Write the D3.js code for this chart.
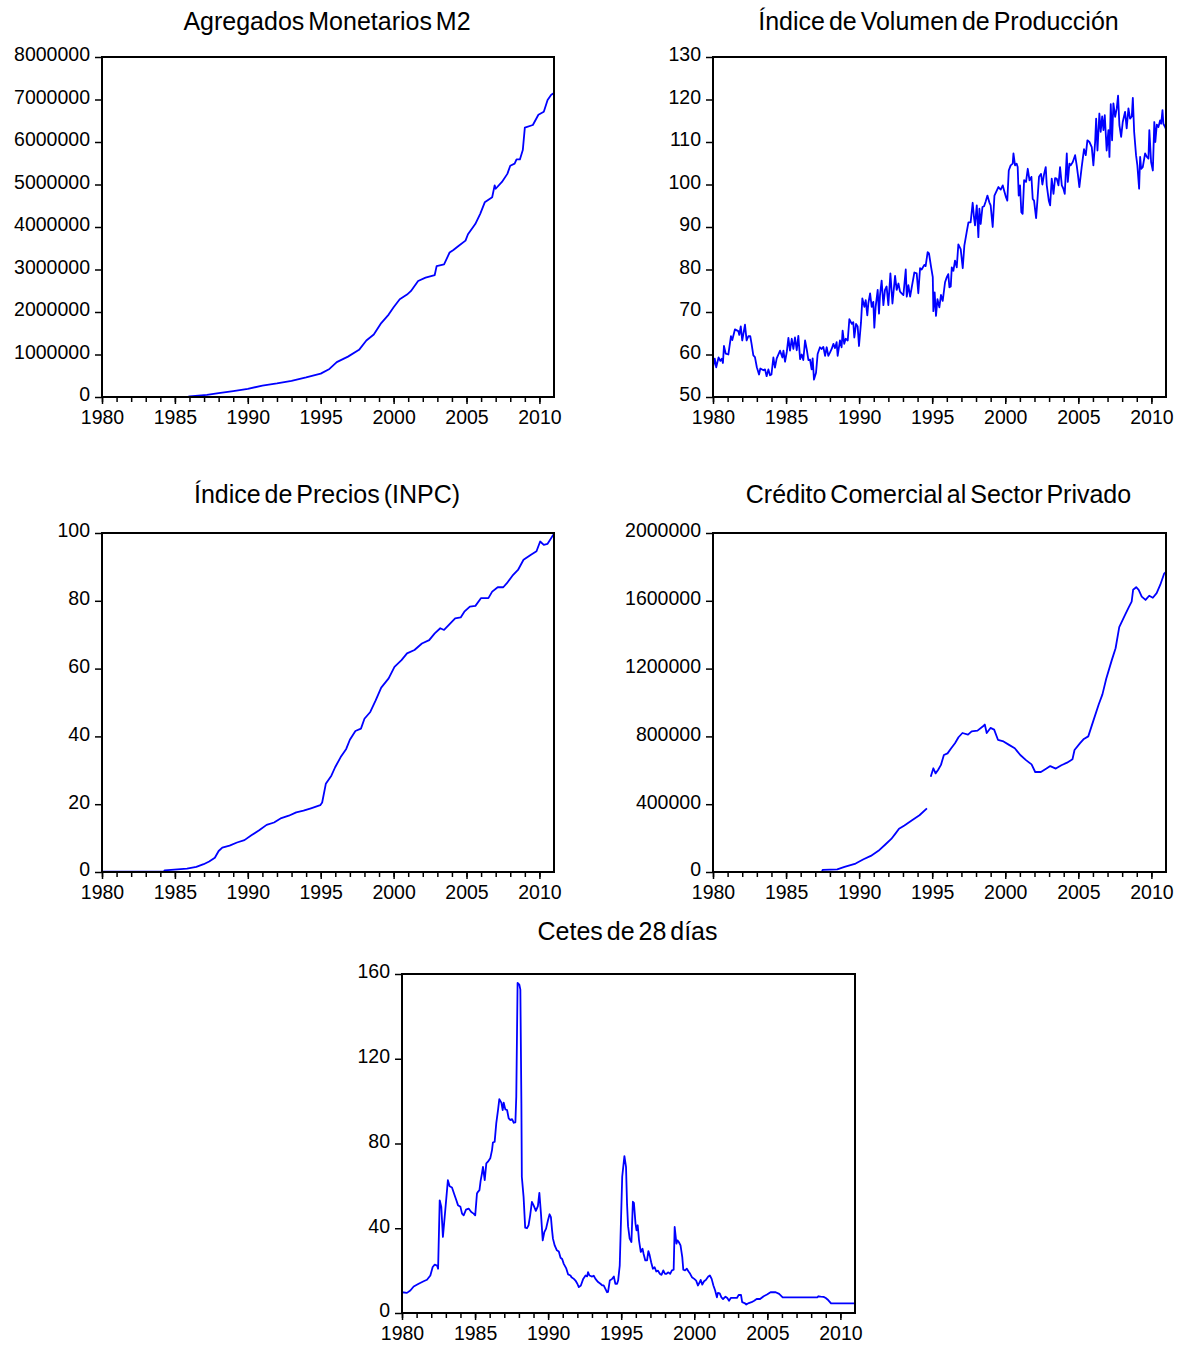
<!DOCTYPE html>
<html>
<head>
<meta charset="utf-8">
<script src="https://cdn.jsdelivr.net/npm/d3@7"></script>
<style>
  body { margin: 0; background: #fff; }
  text { font-family: "Liberation Sans", Arial, sans-serif; fill: #000; }
</style>
</head>
<body>
<div id="chart"></div>
<script>
// ---- data (decimal year, value) ----
var yearTicks = [1980, 1985, 1990, 1995, 2000, 2005, 2010]

var m2Years = [1980.0, 1985.9, 1986.0, 1987.2, 1988.0, 1989.0, 1990.0, 1991.0, 1992.0, 1993.0, 1994.0, 1995.0, 1995.6,
  1996.1, 1996.87, 1997.63, 1998.13, 1998.64, 1999.15, 1999.66, 2000.0, 2000.42, 2000.92, 2001.18, 2001.68, 2002.19,
  2002.82, 2002.95, 2003.46, 2003.84, 2004.1, 2004.47, 2004.93, 2005.1, 2005.6, 2005.94, 2006.25, 2006.76, 2006.93,
  2007.0, 2007.43, 2007.8, 2008.0, 2008.3, 2008.43, 2008.66, 2008.86, 2009.0, 2009.55, 2009.93, 2010.3, 2010.56,
  2010.81, 2011.0]
var m2Values = [0, 5000, 16000, 50000, 90000, 140000, 190000, 270000, 320000, 380000, 460000, 550000, 660000,
  820000, 950000, 1110000, 1330000, 1470000, 1740000, 1940000, 2110000, 2300000, 2410000, 2490000, 2730000, 2810000,
  2870000, 3080000, 3120000, 3400000, 3460000, 3560000, 3680000, 3830000, 4070000, 4310000, 4580000, 4700000, 4980000,
  4900000, 5060000, 5250000, 5440000, 5490000, 5590000, 5590000, 5810000, 6340000, 6400000, 6640000, 6710000, 6990000,
  7110000, 7150000]
var m2Ticks = [0, 1000000, 2000000, 3000000, 4000000, 5000000, 6000000, 7000000, 8000000]

var prodYears = [1980.0, 1980.12, 1980.22, 1980.38, 1980.5, 1980.6, 1980.68, 1980.75, 1980.87, 1981.05, 1981.23, 1981.32,
  1981.5, 1981.73, 1981.8, 1981.9, 1982.0, 1982.19, 1982.3, 1982.42, 1982.55, 1982.64, 1982.76, 1982.87, 1983.0,
  1983.15, 1983.24, 1983.45, 1983.56, 1983.67, 1983.79, 1983.9, 1984.0, 1984.13, 1984.24, 1984.36, 1984.59, 1984.75,
  1984.82, 1984.93, 1985.05, 1985.16, 1985.27, 1985.39, 1985.5, 1985.61, 1985.73, 1985.84, 1985.96, 1986.07, 1986.18,
  1986.3, 1986.41, 1986.53, 1986.64, 1986.75, 1986.82, 1986.91, 1987.05, 1987.16, 1987.32, 1987.43, 1987.55, 1987.67,
  1987.78, 1987.89, 1988.01, 1988.12, 1988.24, 1988.35, 1988.46, 1988.53, 1988.69, 1988.8, 1988.87, 1988.98, 1989.08,
  1989.22, 1989.33, 1989.5, 1989.6, 1989.67, 1989.79, 1989.9, 1989.99, 1990.13, 1990.22, 1990.36, 1990.45, 1990.56,
  1990.63, 1990.75, 1990.86, 1990.97, 1991.04, 1991.13, 1991.27, 1991.36, 1991.43, 1991.54, 1991.66, 1991.77, 1991.88,
  1992.0, 1992.14, 1992.28, 1992.46, 1992.57, 1992.69, 1992.8, 1992.91, 1993.03, 1993.19, 1993.26, 1993.37, 1993.49,
  1993.6, 1993.78, 1993.94, 1994.05, 1994.17, 1994.28, 1994.46, 1994.55, 1994.69, 1994.78, 1994.92, 1995.04, 1995.08,
  1995.17, 1995.26, 1995.36, 1995.49, 1995.6, 1995.72, 1995.88, 1996.0, 1996.1, 1996.18, 1996.27, 1996.34, 1996.45,
  1996.56, 1996.68, 1996.79, 1996.95, 1997.09, 1997.2, 1997.36, 1997.48, 1997.63, 1997.77, 1997.86, 1997.93, 1998.05,
  1998.16, 1998.23, 1998.32, 1998.44, 1998.55, 1998.66, 1998.78, 1998.91, 1999.0, 1999.14, 1999.26, 1999.37, 1999.53,
  1999.69, 1999.83, 1999.92, 2000.05, 2000.14, 2000.24, 2000.37, 2000.51, 2000.56, 2000.67, 2000.78, 2000.85, 2000.92,
  2001.01, 2001.1, 2001.19, 2001.29, 2001.42, 2001.54, 2001.66, 2001.79, 2001.88, 2001.97, 2002.11, 2002.2, 2002.31,
  2002.45, 2002.54, 2002.66, 2002.77, 2002.84, 2002.98, 2003.07, 2003.18, 2003.3, 2003.41, 2003.52, 2003.64, 2003.75,
  2003.87, 2003.98, 2004.07, 2004.21, 2004.28, 2004.39, 2004.48, 2004.62, 2004.78, 2004.89, 2004.98, 2005.07, 2005.23,
  2005.39, 2005.51, 2005.62, 2005.76, 2005.92, 2006.03, 2006.15, 2006.22, 2006.31, 2006.44, 2006.53, 2006.63, 2006.72,
  2006.81, 2006.94, 2007.06, 2007.13, 2007.22, 2007.31, 2007.4, 2007.52, 2007.63, 2007.72, 2007.81, 2007.93, 2008.04,
  2008.2, 2008.31, 2008.43, 2008.54, 2008.66, 2008.73, 2008.82, 2008.95, 2009.04, 2009.16, 2009.23, 2009.3, 2009.41,
  2009.57, 2009.69, 2009.8, 2009.86, 2009.98, 2010.1, 2010.2, 2010.27, 2010.37, 2010.48, 2010.6, 2010.67, 2010.76,
  2010.82, 2010.94, 2011.0]
var prodValues = [57, 59, 57, 59.3, 58.5, 59, 58, 62, 60.2, 60, 64.3, 63.4,
  65.9, 65.5, 64.6, 66.6, 63.3, 67, 63.3, 64.3, 64.3, 62.5, 59.8, 59.4, 57,
  55.3, 56.7, 56.3, 56.5, 54.9, 56.5, 55.1, 55.3, 59.3, 56.9, 59.1, 60.9, 59.3,
  60.9, 58.3, 60.6, 63.9, 60.9, 63.7, 61.3, 64, 61, 64.4, 58.9, 60, 58.7,
  63.3, 61.3, 58.7, 58.8, 56.5, 59.1, 54.1, 55.7, 60.1, 61.7, 61.3, 61.8, 59.7,
  61.7, 59.7, 60.5, 61.3, 62.5, 61.5, 62.9, 59.7, 63.3, 61.7, 65.6, 62.5, 63.7,
  63.3, 68.3, 67.2, 67.6, 64, 67.2, 66.6, 62, 67.6, 73.2, 71.2, 72.8, 69.2,
  72, 74.4, 71.2, 72.4, 66.3, 71.2, 75.2, 69.6, 74, 77.4, 71.6, 75.2, 76,
  71.6, 79.1, 72, 78.5, 75.2, 76.7, 74.8, 74.4, 74, 80, 73.6, 76.3, 73.6,
  75.8, 79.3, 79.1, 74.4, 80.3, 80, 81.1, 80.8, 84.1, 83.8, 80.7, 78.2, 70.2,
  74.6, 69.1, 73, 71.1, 74, 72.6, 77, 78.2, 78.9, 75.8, 76, 80.5, 79.7,
  82.1, 80.5, 85.9, 84.8, 80.3, 85.6, 88.8, 91.1, 91.1, 95.7, 92.3, 90.4, 95.1,
  87.6, 94.3, 90.7, 94.7, 94.9, 96, 97.4, 95.8, 95.1, 90, 97.4, 98.2, 99.4,
  98.8, 99.8, 98.6, 97, 96.2, 103.3, 104.5, 104.9, 107.3, 104.5, 104.9, 104.1, 97.4,
  99.8, 93.5, 93.1, 101, 100.6, 103.7, 101, 101.8, 96.6, 96.2, 92.1, 96.2, 101.8,
  102.5, 100, 102.5, 104.1, 99.8, 96.2, 95.1, 101.4, 97.8, 101.5, 101.4, 99.8, 104.1,
  99.8, 99, 97.8, 107.3, 100.6, 104.9, 104.5, 105.3, 106.9, 104.5, 102.1, 99.4, 104.1,
  108.3, 106.9, 110.4, 110, 108.8, 104.5, 110, 115.5, 108, 116.7, 112.4, 116, 112.8,
  116.3, 108, 112.8, 106.5, 118.9, 110.4, 119.1, 115.9, 117.9, 120.9, 114, 111.2, 114.7,
  117.1, 113.2, 117.9, 115.5, 116, 120.4, 112.4, 106.9, 104.5, 99, 106.5, 103.7, 104.1,
  107.3, 106.5, 106.1, 112.8, 105.3, 103.3, 114.7, 110, 114.1, 113.5, 115.1, 114.3, 117.5,
  114.3, 113.5, 113]
var prodTicks = [50, 60, 70, 80, 90, 100, 110, 120, 130]

var inpcYears = [1980.0, 1984.25, 1984.3, 1985.83, 1986.47, 1986.97, 1987.35, 1987.74, 1988.0, 1988.25, 1988.75,
  1989.26, 1989.77, 1990.27, 1990.78, 1991.29, 1991.8, 1992.3, 1992.81, 1993.32, 1993.82, 1994.33, 1994.97, 1995.1,
  1995.35, 1995.73, 1995.99, 1996.37, 1996.75, 1997.0, 1997.38, 1997.76, 1998.0, 1998.4, 1998.77, 1999.15, 1999.66,
  2000.06, 2000.54, 2000.92, 2001.43, 2001.94, 2002.44, 2002.82, 2003.2, 2003.46, 2003.84, 2004.22, 2004.6, 2004.85,
  2005.23, 2005.61, 2006.0, 2006.5, 2006.76, 2007.14, 2007.52, 2007.77, 2008.15, 2008.53, 2008.91, 2009.42, 2009.8,
  2010.05, 2010.3, 2010.56, 2011.0]
var inpcValues = [0.1, 0.2, 0.5, 1.0, 1.5, 2.3, 3.1, 4.2, 6.2, 7.2, 7.8,
  8.7, 9.4, 10.9, 12.3, 13.9, 14.6, 15.9, 16.6, 17.6, 18.1, 18.8, 19.7, 20.5,
  26, 28.4, 30.9, 33.9, 36.3, 39, 41.6, 42.3, 45.2, 47.2, 50.6, 54.4, 57.1,
  60.5, 62.5, 64.5, 65.5, 67.4, 68.4, 70.4, 71.9, 71.4, 73.1, 74.8, 75.1, 76.8,
  78.3, 78.5, 80.8, 80.8, 82.7, 84, 84, 85.2, 87.4, 89.1, 92.1, 93.6, 94.6,
  97.5, 96.5, 96.8, 99.8]
var inpcTicks = [0, 20, 40, 60, 80, 100]

// null marks the break in the series at the end of 1994
var creditYears = [1980.0, 1987.45, 1987.5, 1988.5, 1989.0, 1989.76, 1990.3, 1990.8, 1991.32, 1991.83, 1992.2,
  1992.47, 1992.73, 1993.1, 1993.62, 1994.13, 1994.64, 1994.77, 1994.9, 1995.08, 1995.23, 1995.4, 1995.6, 1995.8,
  1996.05, 1996.3, 1996.56, 1996.8, 1997.07, 1997.45, 1997.7, 1998.1, 1998.48, 1998.6, 1998.73, 1998.99, 1999.24,
  1999.5, 1999.88, 2000.26, 2000.65, 2001.03, 2001.42, 2001.8, 2002.05, 2002.44, 2002.82, 2003.08, 2003.46, 2003.84,
  2004.23, 2004.6, 2004.74, 2005.12, 2005.38, 2005.68, 2006.02, 2006.4, 2006.65, 2006.91, 2007.29, 2007.55, 2007.8,
  2008.19, 2008.44, 2008.65, 2008.75, 2008.96, 2009.13, 2009.34, 2009.6, 2009.85, 2010.1, 2010.36, 2010.61, 2010.87,
  2011.0]
var creditValues = [0, 0, 12000, 16000, 30000, 50000, 75000, 95000, 125000, 165000, 195000,
  225000, 255000, 275000, 305000, 335000, 375000, null, 562000, 612000, 582000, 602000, 632000, 690000,
  700000, 730000, 760000, 795000, 820000, 810000, 830000, 834000, 860000, 870000, 820000, 850000, 840000,
  780000, 770000, 750000, 730000, 690000, 660000, 635000, 590000, 590000, 610000, 625000, 610000, 630000,
  645000, 665000, 720000, 760000, 785000, 800000, 890000, 990000, 1048000, 1140000, 1250000, 1320000, 1445000,
  1515000, 1560000, 1595000, 1665000, 1680000, 1665000, 1625000, 1605000, 1630000, 1618000, 1645000, 1695000, 1760000,
  1770000]
var creditTicks = [0, 400000, 800000, 1200000, 1600000, 2000000]

var cetesYears = [1980.0, 1980.34, 1980.57, 1980.8, 1981.14, 1981.48, 1981.71, 1981.94, 1982.1, 1982.24, 1982.4,
  1982.47, 1982.58, 1982.69, 1982.8, 1982.92, 1983.03, 1983.14, 1983.26, 1983.42, 1983.6, 1983.72, 1983.83, 1984.0,
  1984.11, 1984.22, 1984.38, 1984.56, 1984.74, 1984.9, 1985.01, 1985.13, 1985.2, 1985.3, 1985.38, 1985.47, 1985.54,
  1985.66, 1985.77, 1985.88, 1986.04, 1986.16, 1986.22, 1986.34, 1986.45, 1986.57, 1986.66, 1986.8, 1986.89, 1986.96,
  1987.07, 1987.19, 1987.3, 1987.42, 1987.53, 1987.65, 1987.76, 1987.82, 1987.91, 1988.03, 1988.1, 1988.17, 1988.2,
  1988.32, 1988.43, 1988.55, 1988.66, 1988.77, 1988.89, 1989.0, 1989.16, 1989.3, 1989.4, 1989.51, 1989.63, 1989.74,
  1989.86, 1989.99, 1990.1, 1990.19, 1990.27, 1990.33, 1990.45, 1990.6, 1990.73, 1990.85, 1990.96, 1991.07, 1991.23,
  1991.37, 1991.53, 1991.6, 1991.76, 1991.87, 1992.0, 1992.1, 1992.24, 1992.4, 1992.56, 1992.67, 1992.73, 1992.83,
  1993.01, 1993.12, 1993.24, 1993.42, 1993.58, 1993.7, 1993.8, 1993.92, 1994.03, 1994.1, 1994.22, 1994.38, 1994.5,
  1994.6, 1994.72, 1994.79, 1994.9, 1995.07, 1995.22, 1995.33, 1995.4, 1995.47, 1995.58, 1995.7, 1995.8, 1995.87,
  1995.98, 1996.05, 1996.13, 1996.22, 1996.34, 1996.46, 1996.53, 1996.65, 1996.77, 1996.86, 1996.95, 1997.05, 1997.17,
  1997.29, 1997.4, 1997.52, 1997.64, 1997.76, 1997.88, 1998.0, 1998.1, 1998.23, 1998.35, 1998.47, 1998.59, 1998.66,
  1998.78, 1998.85, 1998.94, 1999.06, 1999.18, 1999.25, 1999.37, 1999.49, 1999.61, 1999.72, 1999.84, 2000.0, 2000.13,
  2000.25, 2000.37, 2000.44, 2000.55, 2000.67, 2000.79, 2000.96, 2001.07, 2001.19, 2001.31, 2001.43, 2001.55, 2001.62,
  2001.74, 2001.86, 2001.97, 2002.14, 2002.26, 2002.38, 2002.5, 2002.92, 2003.04, 2003.2, 2003.28, 2003.44, 2003.56,
  2003.73, 2003.92, 2004.1, 2004.27, 2004.5, 2004.75, 2004.98, 2005.22, 2005.57, 2005.81, 2006.05, 2008.42, 2008.5,
  2008.65, 2008.85, 2009.0, 2009.12, 2009.36, 2011.0]
var cetesValues = [9.8, 9.5, 10.6, 12.5, 13.8, 15, 15.7, 17.7, 21.7, 22.8, 22.4,
  20.9, 53.2, 50, 35.9, 45.3, 54, 62.7, 59.8, 59.2, 55.6, 53.2, 50.9, 50.1,
  46.9, 46.1, 48.8, 49.3, 47.7, 46.9, 46.1, 56.4, 57.2, 58, 62.4, 65.8, 69,
  62.7, 70.6, 71.4, 73, 76.9, 80.4, 80.8, 89.5, 95.8, 100.9, 99.3, 95.8, 99.3,
  96.1, 95.8, 91.9, 91.1, 91.5, 89.8, 90, 102.1, 155.8, 155, 152.6, 99, 64.3,
  54.8, 40.3, 40, 41.4, 46.1, 52.4, 50.9, 48.2, 50.4, 56.7, 46.9, 34.3, 38.2,
  39.8, 43.8, 46.6, 45.3, 39, 35.1, 31.9, 29.6, 29, 26.1, 25.5, 23.2, 21.2,
  18.2, 17.7, 16.9, 16.1, 15.3, 13.8, 12.2, 13, 16.1, 17.7, 17.3, 19.3, 17.7,
  17.2, 17.6, 16.1, 14.6, 13.8, 13, 13, 11.4, 9.8, 10, 15.3, 16.1, 17.2,
  13.8, 13.8, 15.3, 22.4, 64.3, 74, 69, 51.6, 41, 35.1, 33.5, 52.5, 52,
  42.2, 39, 41.4, 34.3, 28.8, 30.3, 28, 24.8, 24.8, 29.2, 27.2, 24, 20.9,
  21.6, 19.6, 20, 18.5, 18, 20.1, 18.5, 18.5, 19.2, 18.5, 20.1, 20.4, 40.6,
  32.7, 34.3, 33.5, 31.9, 26.4, 20.4, 20.1, 20.9, 19.6, 18.5, 16.9, 16.1, 15.3,
  13, 14.5, 15.6, 13.4, 15, 15.6, 17.2, 17.7, 16.1, 13, 10.6, 7.4, 9.5,
  9.3, 7.4, 6.6, 7.7, 7.1, 5.8, 7.1, 7.1, 8.5, 8.5, 5.1, 4.7, 4,
  4.7, 5.1, 5.8, 6.6, 6.6, 7.9, 8.7, 9.8, 9.8, 9, 7.4, 7.4, 7.9,
  7.7, 7.6, 7.1, 6.4, 4.5, 4.5]
var cetesTicks = [0, 40, 80, 120, 160]

// ---- layout ----
var svg = d3.select("#chart").append("svg")
  .attr("width", 1184)
  .attr("height", 1345)
  .style("background", "#fff")

var panels = [
  {title: "Agregados Monetarios M2", years: m2Years, values: m2Values, ticks: m2Ticks,
   left: 102, top: 57, width: 452, height: 340, titleY: 30},
  {title: "Índice de Volumen de Producción", years: prodYears, values: prodValues, ticks: prodTicks,
   left: 713, top: 57, width: 453, height: 340, titleY: 30},
  {title: "Índice de Precios (INPC)", years: inpcYears, values: inpcValues, ticks: inpcTicks,
   left: 102, top: 533, width: 452, height: 339, titleY: 503},
  {title: "Crédito Comercial al Sector Privado", years: creditYears, values: creditValues, ticks: creditTicks,
   left: 713, top: 533, width: 453, height: 339, titleY: 503},
  {title: "Cetes de 28 días", years: cetesYears, values: cetesValues, ticks: cetesTicks,
   left: 402, top: 974, width: 453, height: 339, titleY: 940}
]

panels.forEach(function(p, i){
  var g = svg.append("g")
    .attr("transform", "translate(" + p.left + "," + p.top + ")")

  var x = d3.scaleLinear()
    .domain([1980, 2011])
    .range([0, p.width])
  var y = d3.scaleLinear()
    .domain([p.ticks[0], p.ticks[p.ticks.length - 1]])
    .range([p.height, 0])

  // title
  svg.append("text")
    .attr("x", p.left + p.width / 2 - 1)
    .attr("y", p.titleY)
    .attr("text-anchor", "middle")
    .style("font-size", "25px")
    .style("word-spacing", "-3px")
    .text(p.title)

  // minor year ticks
  var minor = g.append("g")
    .attr("transform", "translate(0," + p.height + ")")
    .call(d3.axisBottom(x).tickValues(d3.range(1980, 2011)).tickSize(5).tickFormat(""))
  minor.select(".domain").remove()
  minor.selectAll("line").attr("stroke-width", 1.5)

  // major x axis
  var xAxis = g.append("g")
    .attr("transform", "translate(0," + p.height + ")")
    .call(d3.axisBottom(x).tickValues(yearTicks).tickSize(7).tickPadding(6).tickFormat(d3.format("d")))
  xAxis.select(".domain").remove()
  xAxis.selectAll("line").attr("stroke-width", 1.5)
  xAxis.selectAll("text").style("font-size", "19.5px").attr("fill", "#000")

  // y axis
  var yAxis = g.append("g")
    .call(d3.axisLeft(y).tickValues(p.ticks).tickSize(7).tickPadding(5).tickFormat(d3.format("d")))
  yAxis.select(".domain").remove()
  yAxis.selectAll("line").attr("stroke-width", 1.5)
  yAxis.selectAll("text").style("font-size", "19.5px").attr("dy", "0.2em").attr("fill", "#000")

  // series line
  var pts = p.years.map(function(yr, k){ return [yr, p.values[k]] })
  g.append("clipPath").attr("id", "clip" + i)
    .append("rect").attr("width", p.width).attr("height", p.height + 1)
  g.append("path")
    .datum(pts)
    .attr("clip-path", "url(#clip" + i + ")")
    .attr("fill", "none")
    .attr("stroke", "#0000ff")
    .attr("stroke-width", 1.8)
    .attr("stroke-linejoin", "round")
    .attr("d", d3.line()
      .defined(function(d){ return d[1] != null })
      .x(function(d){ return x(d[0]) })
      .y(function(d){ return y(d[1]) }))

  // frame
  g.append("rect")
    .attr("width", p.width)
    .attr("height", p.height)
    .attr("fill", "none")
    .attr("stroke", "#000")
    .attr("stroke-width", 2)
})
</script>
</body>
</html>
